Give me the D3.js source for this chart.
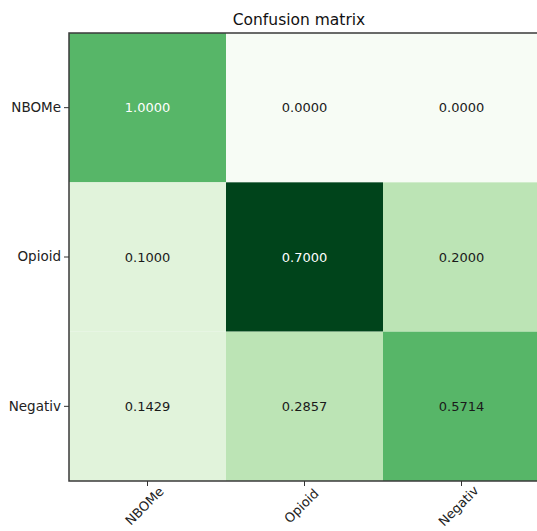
<!DOCTYPE html>
<html>
<head>
<meta charset="utf-8">
<script src="https://cdn.jsdelivr.net/npm/d3@7"></script>
<style>
  html, body { margin: 0; padding: 0; background: #fff; overflow: hidden; }
  svg { display: block; font-family: "DejaVu Sans", sans-serif; }
</style>
</head>
<body>
<svg id="chart" width="537" height="531"></svg>
<script>
// Class labels (true on rows, predicted on columns)
const classes = ["NBOMe", "Opioid", "Negativ"];

// Raw sample counts per (true, predicted) pair; colours follow these
const countsNBOMe   = [4, 0, 0];
const countsOpioid  = [1, 7, 2];
const countsNegativ = [1, 2, 4];
const counts = [countsNBOMe, countsOpioid, countsNegativ];

// Row-normalised rates printed in each cell
const rates = counts.map(row => {
  const s = d3.sum(row);
  return row.map(v => v / s);
});

const svg = d3.select("#chart");
const W = 537, H = 531;
// the plot area runs a little past the right edge of the figure
const plot = { left: 69, top: 33, right: 540, bottom: 481 };

const x = d3.scaleBand().domain(classes).range([plot.left, plot.right]);
const y = d3.scaleBand().domain(classes).range([plot.top, plot.bottom]);

// Greens colour ramp (ColorBrewer 9-class, linearly interpolated)
const greens = ["#f7fcf5","#e5f5e0","#c7e9c0","#a1d99b","#74c476","#41ab5d","#238b45","#006d2c","#00441b"];
const maxCount = d3.max(counts.flat());
const color = d3.scaleLinear()
  .domain(greens.map((_, i) => i / (greens.length - 1) * maxCount))
  .range(greens)
  .interpolate(d3.interpolateRgb);

const cells = [];
classes.forEach((t, i) => classes.forEach((p, j) => {
  cells.push({ t, p, count: counts[i][j], rate: rates[i][j] });
}));

svg.append("g").selectAll("rect").data(cells).join("rect")
  .attr("x", d => x(d.p))
  .attr("y", d => y(d.t))
  .attr("width", x.bandwidth())
  .attr("height", y.bandwidth())
  .attr("fill", d => color(d.count));

svg.append("g").selectAll("text").data(cells).join("text")
  .attr("x", d => x(d.p) + x.bandwidth() / 2)
  .attr("y", d => y(d.t) + y.bandwidth() / 2)
  .attr("text-anchor", "middle")
  .attr("dominant-baseline", "central")
  .attr("font-size", 13)
  .attr("fill", d => d.rate > 0.65 ? "#ffffff" : "#1a1a1a")
  .text(d => d.rate.toFixed(4));

// Frame
svg.append("rect")
  .attr("x", plot.left).attr("y", plot.top)
  .attr("width", plot.right - plot.left)
  .attr("height", plot.bottom - plot.top)
  .attr("fill", "none").attr("stroke", "#3a3a3a").attr("stroke-width", 1.5);

// Y axis
const yAxis = svg.append("g")
  .attr("transform", `translate(${plot.left},0)`)
  .call(d3.axisLeft(y).tickSize(5).tickPadding(3));
yAxis.select(".domain").remove();
yAxis.selectAll("line").attr("stroke", "#333");
yAxis.selectAll("text").attr("font-size", 13.5).attr("fill", "#222")
  .attr("font-family", "DejaVu Sans, sans-serif");

// X axis with rotated labels
const xAxis = svg.append("g")
  .attr("transform", `translate(0,${plot.bottom})`)
  .call(d3.axisBottom(x).tickSize(5).tickPadding(0));
xAxis.select(".domain").remove();
xAxis.selectAll("line").attr("stroke", "#333");
xAxis.selectAll("text")
  .attr("font-size", 13).attr("fill", "#222")
  .attr("font-family", "DejaVu Sans, sans-serif")
  .attr("text-anchor", "middle")
  .attr("dy", null)
  .attr("y", 0)
  .attr("dominant-baseline", "central")
  .attr("transform", "translate(-3,25) rotate(-45)");

// Title
svg.append("text")
  .attr("x", 299)
  .attr("y", 20)
  .attr("text-anchor", "middle")
  .attr("dominant-baseline", "central")
  .attr("font-size", 15.5)
  .attr("fill", "#111")
  .text("Confusion matrix");
</script>
</body>
</html>
